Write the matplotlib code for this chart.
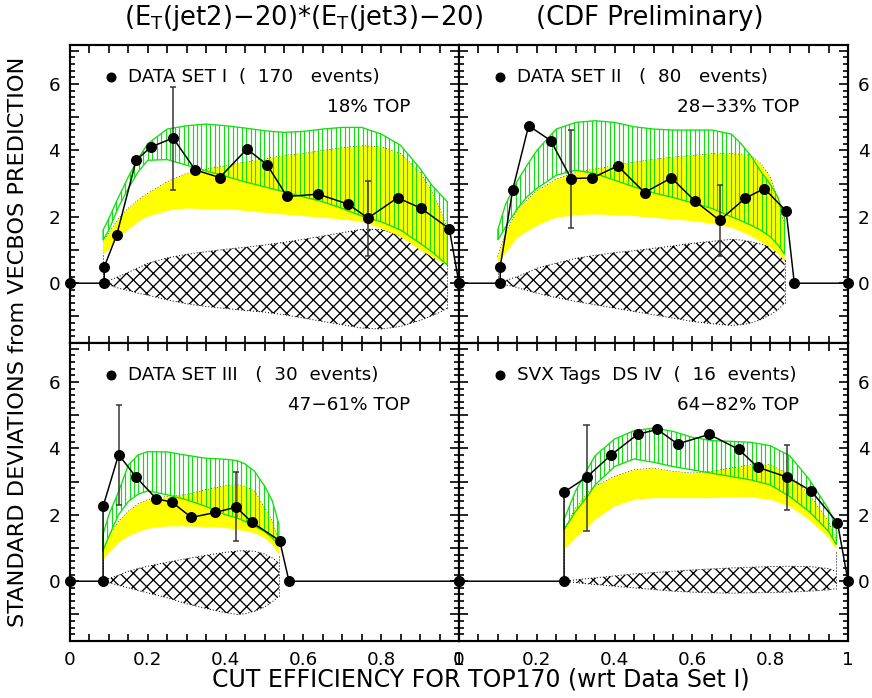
import numpy as np
import matplotlib
matplotlib.use("Agg")
import matplotlib.pyplot as plt
from matplotlib.patches import Polygon
from matplotlib.ticker import MultipleLocator, FuncFormatter

plt.rcParams['font.family'] = ['DejaVu Sans']
plt.rcParams['mathtext.default'] = 'regular'
plt.rcParams['hatch.linewidth'] = 0.8

# ---- data set I ----
p1_x = [0, 0.088, 0.088, 0.12, 0.17, 0.208, 0.265, 0.322, 0.385, 0.455, 0.507, 0.558,
        0.638, 0.715, 0.766, 0.842, 0.902, 0.975, 1.0]
p1_y = [0, 0, 0.49, 1.45, 3.7, 4.1, 4.37, 3.41, 3.18, 4.04, 3.56, 2.61,
        2.68, 2.38, 1.96, 2.57, 2.26, 1.64, 0]
p1_err_x = [0.265, 0.766]
p1_err_lo = [2.81, 0.82]
p1_err_hi = [5.9, 3.08]
p1_bx = [0.085, 0.1, 0.125, 0.15, 0.175, 0.2, 0.25, 0.3, 0.35, 0.4, 0.45, 0.5, 0.55,
         0.6, 0.65, 0.7, 0.75, 0.8, 0.85, 0.9, 0.93, 0.95, 0.97]
p1_green_hi = [1.6, 1.95, 2.6, 3.2, 3.75, 4.2, 4.64, 4.74, 4.79, 4.74, 4.67, 4.59, 4.54,
               4.57, 4.64, 4.69, 4.69, 4.49, 4.15, 3.45, 2.95, 2.7, 2.45]
p1_green_lo = [1.3, 1.6, 2.3, 2.85, 3.35, 3.7, 3.72, 3.55, 3.38, 3.22, 3.05, 2.9, 2.75,
               2.6, 2.45, 2.25, 2.02, 1.85, 1.6, 1.2, 0.95, 0.75, 0.55]
p1_yel_hi = [1.25, 1.5, 1.95, 2.25, 2.5, 2.7, 3.05, 3.3, 3.43, 3.53, 3.64, 3.74, 3.84,
             3.9, 3.99, 4.07, 4.13, 4.1, 3.89, 3.33, 2.75, 2.25, 1.6]
p1_yel_lo = [0.87, 1.0, 1.4, 1.6, 1.85, 2.0, 2.18, 2.25, 2.23, 2.23, 2.18, 2.12, 2.07,
             2.02, 1.97, 1.92, 1.85, 1.65, 1.4, 1.0, 0.8, 0.65, 0.55]
p1_hat_hi = [0, 0.08, 0.2, 0.33, 0.46, 0.6, 0.76, 0.87, 0.95, 1.02, 1.08, 1.15, 1.23,
             1.32, 1.42, 1.52, 1.62, 1.62, 1.42, 1.15, 0.95, 0.8, 0.6]
p1_hat_lo = [0, -0.05, -0.15, -0.22, -0.3, -0.36, -0.5, -0.62, -0.7, -0.76, -0.82, -0.87, -0.95,
             -1.05, -1.15, -1.25, -1.35, -1.38, -1.3, -1.12, -0.98, -0.88, -0.75]

# ---- data set II ----
p2_x = [0, 0.106, 0.106, 0.138, 0.179, 0.236, 0.288, 0.343, 0.408, 0.477, 0.546, 0.606,
        0.670, 0.736, 0.785, 0.841, 0.862, 1.0]
p2_y = [0, 0, 0.5, 2.81, 4.74, 4.29, 3.15, 3.17, 3.53, 2.73, 3.17, 2.48,
        1.89, 2.56, 2.85, 2.17, 0, 0]
p2_err_x = [0.288, 0.670]
p2_err_lo = [1.65, 0.82]
p2_err_hi = [4.61, 2.95]
p2_bx = [0.1, 0.12, 0.15, 0.175, 0.2, 0.225, 0.25, 0.3, 0.35, 0.4, 0.45, 0.5, 0.55,
         0.6, 0.65, 0.7, 0.725, 0.75, 0.775, 0.8, 0.82, 0.837]
p2_green_hi = [1.62, 2.38, 3.08, 3.55, 3.99, 4.32, 4.64, 4.84, 4.89, 4.84, 4.71, 4.64, 4.61,
               4.61, 4.61, 4.49, 4.2, 3.84, 3.38, 2.98, 2.58, 1.97]
p2_green_lo = [1.3, 1.7, 2.25, 2.6, 2.85, 3.05, 3.25, 3.4, 3.3, 3.1, 2.9, 2.72, 2.58,
               2.42, 2.25, 2.0, 1.88, 1.75, 1.6, 1.4, 1.15, 0.87]
p2_yel_hi = [0.8, 1.5, 2.2, 2.5, 2.78, 2.95, 3.13, 3.33, 3.43, 3.53, 3.64, 3.72, 3.79,
             3.84, 3.89, 3.89, 3.88, 3.84, 3.6, 3.2, 2.5, 1.7]
p2_yel_lo = [0.6, 0.9, 1.37, 1.55, 1.72, 1.85, 1.97, 2.05, 2.07, 2.05, 2.02, 1.97, 1.92,
             1.87, 1.79, 1.67, 1.55, 1.42, 1.25, 1.07, 0.9, 0.66]
p2_hat_hi = [0, 0.08, 0.2, 0.32, 0.45, 0.53, 0.6, 0.75, 0.84, 0.92, 0.98, 1.05, 1.12,
             1.2, 1.26, 1.32, 1.3, 1.25, 1.18, 1.1, 0.95, 0.7]
p2_hat_lo = [0, -0.05, -0.13, -0.22, -0.3, -0.37, -0.43, -0.55, -0.65, -0.75, -0.85, -0.95, -1.05,
             -1.15, -1.22, -1.27, -1.25, -1.2, -1.1, -0.95, -0.8, -0.6]

# ---- data set III ----
p3_x = [0, 0.085, 0.085, 0.125, 0.17, 0.222, 0.262, 0.312, 0.374, 0.427, 0.468, 0.539, 0.563, 1.0]
p3_y = [0, 0, 2.25, 3.81, 3.13, 2.48, 2.38, 1.92, 2.07, 2.23, 1.77, 1.22, 0, 0]
p3_err_x = [0.125, 0.427]
p3_err_lo = [2.30, 1.22]
p3_err_hi = [5.30, 3.28]
p3_bx = [0.084, 0.1, 0.125, 0.15, 0.175, 0.2, 0.25, 0.3, 0.35, 0.4, 0.43, 0.45, 0.475,
         0.5, 0.52, 0.537]
p3_green_hi = [1.38, 2.0, 2.7, 3.5, 3.8, 3.9, 3.89, 3.79, 3.7, 3.67, 3.63, 3.53, 3.3,
               2.87, 2.42, 1.71]
p3_green_lo = [0.9, 1.35, 2.0, 2.4, 2.62, 2.72, 2.6, 2.45, 2.25, 2.0, 1.9, 1.8, 1.65,
               1.5, 1.3, 1.1]
p3_yel_hi = [0.9, 1.35, 1.8, 2.1, 2.32, 2.45, 2.55, 2.6, 2.75, 2.87, 2.9, 2.85, 2.7,
             2.2, 1.8, 1.2]
p3_yel_lo = [0.6, 0.85, 1.15, 1.35, 1.47, 1.58, 1.65, 1.65, 1.63, 1.6, 1.55, 1.5, 1.45,
             1.3, 1.1, 0.8]
p3_hat_hi = [0, 0.08, 0.18, 0.3, 0.38, 0.45, 0.57, 0.68, 0.78, 0.87, 0.91, 0.92, 0.9,
             0.82, 0.7, 0.55]
p3_hat_lo = [0, -0.05, -0.12, -0.2, -0.28, -0.35, -0.5, -0.68, -0.82, -0.95, -1.0, -0.98, -0.9,
             -0.78, -0.62, -0.45]

# ---- SVX tags DS IV ----
p4_x = [0, 0.27, 0.27, 0.328, 0.391, 0.459, 0.510, 0.562, 0.643, 0.719, 0.768, 0.844,
        0.905, 0.973, 1.0]
p4_y = [0, 0, 2.68, 3.13, 3.80, 4.42, 4.57, 4.13, 4.42, 3.97, 3.43, 3.13, 2.72, 1.76, 0]
p4_err_x = [0.328, 0.844]
p4_err_lo = [1.52, 2.14]
p4_err_hi = [4.71, 4.11]
p4_bx = [0.27, 0.3, 0.33, 0.35, 0.4, 0.45, 0.5, 0.55, 0.6, 0.65, 0.7, 0.75, 0.8, 0.85,
         0.9, 0.95, 0.97]
p4_green_hi = [1.86, 2.72, 3.37, 3.78, 4.28, 4.53, 4.61, 4.51, 4.33, 4.23, 4.21, 4.18, 4.08,
               3.78, 3.07, 2.17, 1.61]
p4_green_lo = [1.55, 2.1, 2.55, 2.9, 3.45, 3.68, 3.58, 3.45, 3.35, 3.25, 3.15, 3.05, 2.9,
               2.55, 2.1, 1.5, 1.1]
p4_yel_hi = [1.55, 2.2, 2.65, 2.85, 3.15, 3.35, 3.4, 3.3, 3.25, 3.3, 3.4, 3.5, 3.5,
             3.2, 2.6, 1.8, 1.2]
p4_yel_lo = [0.95, 1.3, 1.6, 1.85, 2.25, 2.45, 2.5, 2.5, 2.5, 2.5, 2.52, 2.52, 2.45,
             2.25, 1.85, 1.3, 0.95]
p4_hat_hi = [0, 0.04, 0.08, 0.1, 0.16, 0.22, 0.26, 0.3, 0.34, 0.37, 0.4, 0.42, 0.44,
             0.45, 0.44, 0.38, 0.3]
p4_hat_lo = [0, -0.04, -0.08, -0.1, -0.15, -0.2, -0.25, -0.3, -0.33, -0.35, -0.36, -0.35, -0.34,
             -0.33, -0.3, -0.26, -0.22]

labels = ["DATA SET I  (  170   events)", "DATA SET II   (  80   events)",
          "DATA SET III   (  30  events)", "SVX Tags  DS IV  (  16  events)"]
top_frac = ["18% TOP", "28\u221233% TOP", "47\u221261% TOP", "64\u221282% TOP"]

panels = [
    dict(x=p1_x, y=p1_y, ex=p1_err_x, elo=p1_err_lo, ehi=p1_err_hi, bx=p1_bx,
         ghi=p1_green_hi, glo=p1_green_lo, yhi=p1_yel_hi, ylo=p1_yel_lo,
         hhi=p1_hat_hi, hlo=p1_hat_lo),
    dict(x=p2_x, y=p2_y, ex=p2_err_x, elo=p2_err_lo, ehi=p2_err_hi, bx=p2_bx,
         ghi=p2_green_hi, glo=p2_green_lo, yhi=p2_yel_hi, ylo=p2_yel_lo,
         hhi=p2_hat_hi, hlo=p2_hat_lo),
    dict(x=p3_x, y=p3_y, ex=p3_err_x, elo=p3_err_lo, ehi=p3_err_hi, bx=p3_bx,
         ghi=p3_green_hi, glo=p3_green_lo, yhi=p3_yel_hi, ylo=p3_yel_lo,
         hhi=p3_hat_hi, hlo=p3_hat_lo),
    dict(x=p4_x, y=p4_y, ex=p4_err_x, elo=p4_err_lo, ehi=p4_err_hi, bx=p4_bx,
         ghi=p4_green_hi, glo=p4_green_lo, yhi=p4_yel_hi, ylo=p4_yel_lo,
         hhi=p4_hat_hi, hlo=p4_hat_lo),
]

GREEN = '#10e010'
YELLOW = '#ffff00'


def draw_panel(ax, p, label, frac):
    bx = np.array(p['bx'])
    # hatched band
    ax.fill_between(bx, p['hlo'], p['hhi'], facecolor='none', edgecolor='black',
                    hatch='xxx', linewidth=0, zorder=1)
    ax.plot(bx, p['hhi'], ls=(0, (1, 2)), color='black', lw=0.6, zorder=1)
    ax.plot(bx, p['hlo'], ls=(0, (1, 2)), color='black', lw=0.6, zorder=1)
    ax.plot([bx[-1], bx[-1]], [p['hlo'][-1], p['hhi'][-1]], ls=(0, (1, 2)),
            color='black', lw=0.6, zorder=1)
    # yellow band
    ax.fill_between(bx, p['ylo'], p['yhi'], facecolor=YELLOW, edgecolor='none', zorder=2)
    ax.plot(bx, p['yhi'], ls=(0, (1, 2)), color='black', lw=0.6, zorder=1.5)
    ax.plot([bx[0], bx[0]], [0, p['yhi'][0]], ls=(0, (1, 2)), color='black', lw=0.6, zorder=1.5)
    ax.plot([bx[-1], bx[-1]], [p['hhi'][-1], p['ylo'][-1]], ls=(0, (1, 2)),
            color='black', lw=0.6, zorder=1.5)
    # green open boxes
    verts = np.vstack([np.column_stack([bx, p['ghi']]),
                       np.column_stack([bx[::-1], p['glo'][::-1]])])
    poly = Polygon(verts, closed=True, facecolor='none', edgecolor=GREEN, lw=0.8, zorder=3)
    ax.add_patch(poly)
    xs = np.arange(bx[0], bx[-1] + 1e-6, 0.0115)
    vl = ax.vlines(xs, -2, 8, colors=GREEN, lw=0.7, zorder=3)
    vl.set_clip_path(poly)
    # data
    ax.plot(p['x'], p['y'], '-', color='black', lw=0.9, zorder=5)
    ax.plot(p['x'], p['y'], 'o', color='black', ms=5.6, zorder=6, clip_on=False)
    for xe, lo, hi in zip(p['ex'], p['elo'], p['ehi']):
        ax.vlines(xe, lo, hi, color='#333333', lw=0.9, zorder=5)
        ax.hlines([lo, hi], xe - 0.008, xe + 0.008, color='#333333', lw=0.9, zorder=5)
    # legend text
    ax.plot([0.105], [6.2], 'o', color='black', ms=5.0, zorder=6)
    ax.text(0.15, 6.2, label, fontsize=11, va='center', ha='left')
    ax.text(0.875, 5.3, frac, fontsize=11, va='center', ha='right')


fig, axes = plt.subplots(2, 2, figsize=(872 / 120, 698 / 120), dpi=120)
fig.subplots_adjust(left=70 / 872, right=848 / 872, top=1 - 45 / 698,
                    bottom=1 - 641 / 698, hspace=0, wspace=0)

yfmt = FuncFormatter(lambda v, _: f"{int(round(v))}" if (abs(v - round(v)) < 1e-6
                                                       and round(v) % 2 == 0 and 0 <= v <= 6) else "")
xfmt = FuncFormatter(lambda v, _: f"{v:g}")

for i, ax in enumerate(axes.flat):
    draw_panel(ax, panels[i], labels[i], top_frac[i])
    ax.set_xlim(0, 1)
    ax.set_ylim(-1.8, 7.17)
    for s in ax.spines.values():
        s.set_linewidth(1.3)
    ax.xaxis.set_major_locator(MultipleLocator(0.2))
    ax.xaxis.set_minor_locator(MultipleLocator(0.05))
    ax.yaxis.set_major_locator(MultipleLocator(1))
    ax.yaxis.set_minor_locator(MultipleLocator(0.2))
    ax.yaxis.set_major_formatter(yfmt)
    ax.xaxis.set_major_formatter(xfmt)
    ax.tick_params(which='both', direction='in', top=True, bottom=True, left=True, right=True,
                   labelsize=11, width=1.0, pad=6)
    ax.tick_params(which='major', axis='y', length=5.5)
    ax.tick_params(which='minor', axis='y', length=2.8)
    ax.tick_params(which='both', axis='x', length=4.5)
    row, col = divmod(i, 2)
    ax.tick_params(labelbottom=(row == 1), labelleft=(col == 0), labelright=(col == 1))

fig.text(303 / 872, 1 - 18 / 698, r"(E$_T$(jet2)$-$20)$*$(E$_T$(jet3)$-$20)",
         fontsize=15.5, ha='center', va='center')
fig.text(650 / 872, 1 - 18 / 698, "(CDF Preliminary)", fontsize=15.5, ha='center', va='center')
fig.text(18 / 872, 1 - 342 / 698, "STANDARD DEVIATIONS from VECBOS PREDICTION", fontsize=13.4,
         rotation=90, ha='center', va='center')
fig.text(481 / 872, 1 - 680 / 698, "CUT EFFICIENCY FOR TOP170 (wrt Data Set I)", fontsize=14.2,
         ha='center', va='center')

fig.savefig("out.png", dpi=120)
